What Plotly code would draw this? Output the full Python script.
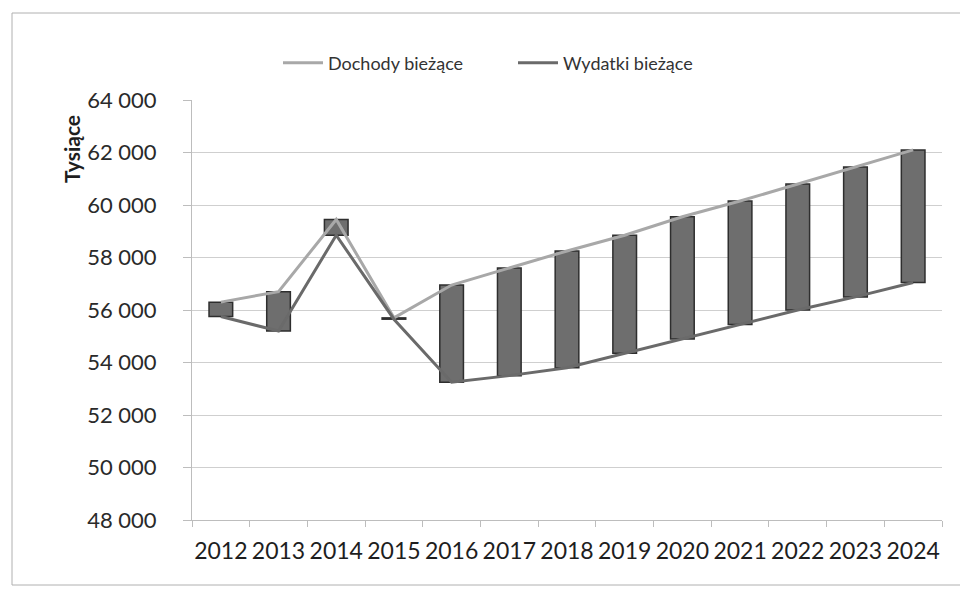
import plotly.graph_objects as go

years = ["2012", "2013", "2014", "2015", "2016", "2017", "2018",
         "2019", "2020", "2021", "2022", "2023", "2024"]
dochody = [56300, 56700, 59450, 55700, 56950, 57600, 58250,
           58850, 59550, 60150, 60800, 61450, 62100]
wydatki = [55750, 55200, 58850, 55650, 53250, 53500, 53800,
           54350, 54900, 55450, 56000, 56500, 57050]

y_ticks = [48000, 50000, 52000, 54000, 56000, 58000, 60000, 62000, 64000]

FONT = "Lato"
W, H = 968, 596
ML, MR, MT, MB = 184, 34, 92, 84
PW, PH = W - ML - MR, H - MT - MB


def px(x):
    return (x - ML) / PW


def py(y):
    return (H - MB - y) / PH


fig = go.Figure()

lo = [min(a, b) for a, b in zip(dochody, wydatki)]
hi = [max(a, b) for a, b in zip(dochody, wydatki)]
fig.add_trace(go.Bar(
    x=years, y=[h - l for h, l in zip(hi, lo)], base=lo,
    width=0.41, marker=dict(color="#6e6e6e", line=dict(color="#2e2e2e", width=1.5)),
    showlegend=False, hoverinfo="skip",
))

fig.add_trace(go.Scatter(
    x=years, y=dochody, mode="lines", name="Dochody bieżące",
    line=dict(color="#a8a8a8", width=3),
))
fig.add_trace(go.Scatter(
    x=years, y=wydatki, mode="lines", name="Wydatki bieżące",
    line=dict(color="#6a6a6a", width=3),
))

fig.update_layout(
    width=W, height=H,
    margin=dict(l=ML, r=MR, t=MT, b=MB),
    paper_bgcolor="white", plot_bgcolor="white",
    separators=", ",
    font=dict(family=FONT, color="#2a2a2a"),
    showlegend=True,
    legend=dict(orientation="h", x=px(270), xanchor="left", y=py(55), yanchor="middle",
                font=dict(size=18, family=FONT, color="#333333"),
                itemwidth=40, entrywidth=180, bgcolor="rgba(0,0,0,0)"),
    xaxis=dict(
        type="category", tickson="boundaries", ticks="outside", ticklen=6,
        tickcolor="#bdbdbd", showline=True, linecolor="#bdbdbd", linewidth=1,
        showgrid=False, tickfont=dict(size=23, family=FONT, color="#1e1e1e"),
        tickangle=0, ticklabelstandoff=10,
    ),
    yaxis=dict(
        range=[48000, 64000], tickvals=y_ticks, tickformat=",d",
        showgrid=True, gridcolor="#cfcfcf", gridwidth=1,
        showline=True, linecolor="#bdbdbd", linewidth=1,
        ticks="outside", ticklen=8, tickcolor="#bdbdbd",
        tickfont=dict(size=22, family=FONT, color="#2a2a2a"),
        ticklabelstandoff=22, zeroline=False,
    ),
    annotations=[dict(text="<b>Tysiące</b>", xref="paper", yref="paper",
                      x=px(63), y=py(141), xanchor="center", yanchor="middle",
                      textangle=-90, showarrow=False,
                      font=dict(size=21, family=FONT, color="#1e1e1e"))],
    bargap=0.59,
    shapes=[dict(type="rect", xref="paper", yref="paper",
                 x0=px(4), x1=px(964), y0=py(577), y1=py(5),
                 line=dict(color="#b0b0b0", width=1), fillcolor="rgba(0,0,0,0)",
                 layer="below")],
)

fig.write_html("out.html")
